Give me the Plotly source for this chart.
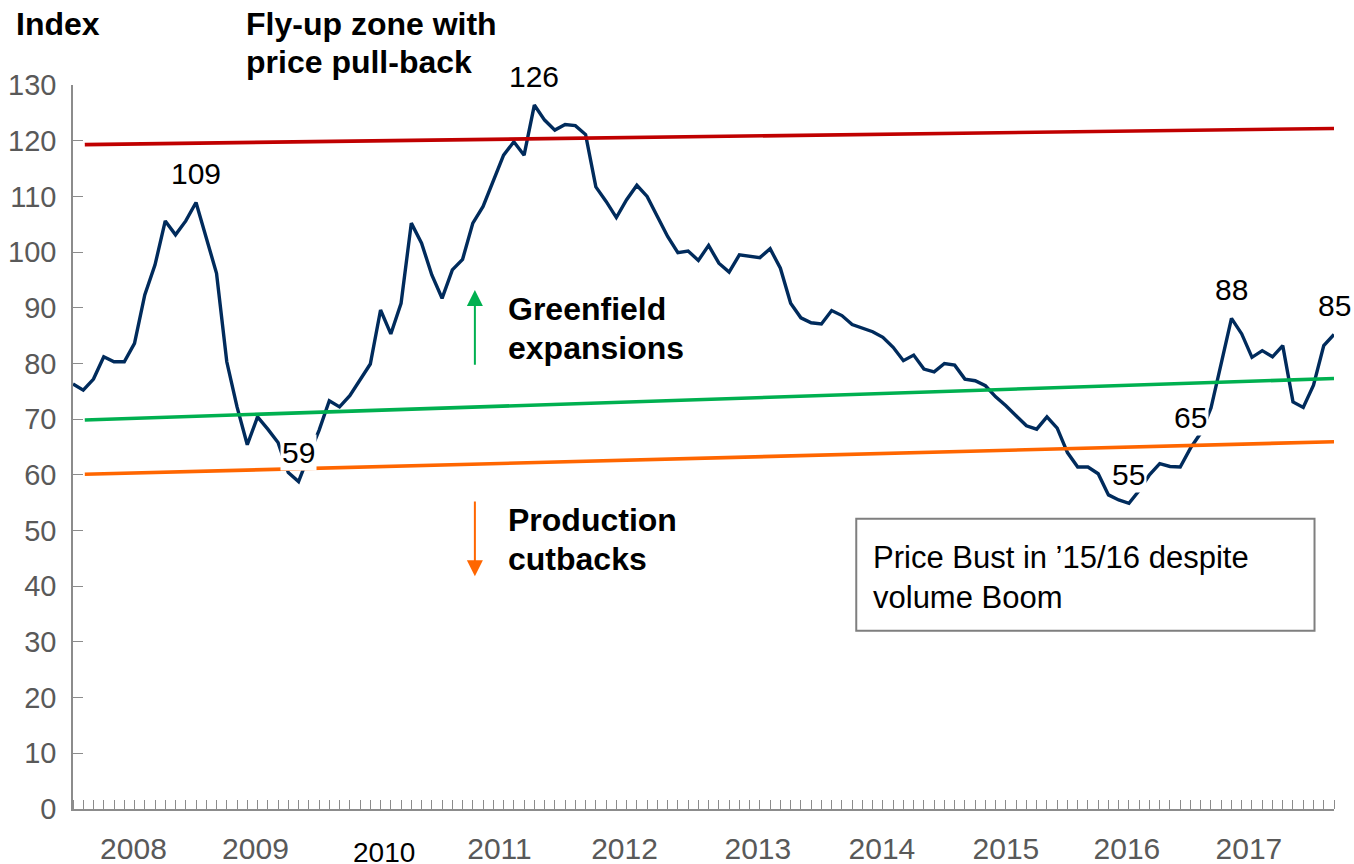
import plotly.graph_objects as go

# ---------------- data ----------------
months = list(range(124))  # monthly points, Jan 2008 onwards
index_values = [
    76.3, 75.2, 77.2, 81.2, 80.3, 80.3, 83.6, 92.3, 97.7, 105.6,
    103.1, 105.6, 108.9, 102.8, 96.2, 80.3, 72.2, 65.4, 70.4, 68.2,
    65.8, 60.4, 58.8, 63.5, 68.0, 73.3, 72.2, 74.2, 77.0, 79.9,
    89.6, 85.3, 90.8, 105.2, 101.6, 95.9, 91.7, 96.8, 98.7, 105.2,
    108.2, 112.9, 117.4, 119.8, 117.4, 126.4, 123.7, 121.9, 122.9, 122.7,
    121.1, 111.7, 109.1, 106.2, 109.4, 112.0, 110.0, 106.4, 102.8, 99.9,
    100.2, 98.5, 101.2, 98.0, 96.4, 99.5, 99.3, 99.0, 100.6, 97.1,
    90.8, 88.2, 87.3, 87.1, 89.5, 88.6, 87.0, 86.4, 85.7, 84.7,
    82.9, 80.5, 81.5, 79.0, 78.5, 80.0, 79.7, 77.2, 76.9, 76.0,
    74.0, 72.4, 70.6, 68.8, 68.2, 70.4, 68.4, 64.0, 61.4, 61.4,
    60.2, 56.4, 55.5, 54.9, 57.2, 60.0, 62.0, 61.5, 61.4, 64.8,
    67.5, 72.0, 80.0, 88.1, 85.3, 81.1, 82.3, 81.2, 83.2, 73.1,
    72.1, 76.1, 83.2, 85.2,
]

trend_x = [1.15, 123]
ceiling_line = [119.3, 122.2]      # fly-up zone threshold
greenfield_line = [69.85, 77.3]    # greenfield expansion threshold
cutback_line = [60.1, 65.95]       # production cutback threshold

year_labels = ["2008", "2009", "2011", "2012", "2013", "2014", "2015", "2016", "2017"]
year_pos = [5.9, 17.8, 41.6, 53.8, 66.8, 78.9, 91.0, 102.8, 114.7]
odd_year_label = "2010"
odd_year_pos = 30.3

y_ticks = list(range(0, 131, 10))

label_points = [12, 22, 45, 103, 109, 113, 123]
masked_labels = [22, 103, 109]

# ---------------- styling ----------------
FONT = "Liberation Sans, Arial, sans-serif"
NAVY = "#002B5C"
RED = "#C00000"
GREEN = "#00B050"
ORANGE = "#FF6600"
AXIS = "#8C8C8C"
TICKTXT = "#595959"

W, H = 1354, 864
ML, MR, MT, MB = 73, 20, 85, 55
PW, PH = W - ML - MR, H - MT - MB

fig = go.Figure()

fig.add_trace(go.Scatter(
    x=months, y=index_values, mode="lines",
    line=dict(color=NAVY, width=3.4), hoverinfo="skip",
))
for vals, col in [(ceiling_line, RED), (greenfield_line, GREEN), (cutback_line, ORANGE)]:
    fig.add_trace(go.Scatter(
        x=trend_x, y=vals, mode="lines",
        line=dict(color=col, width=3.6), hoverinfo="skip",
    ))

annotations = []

# data labels
label_yshift = {109: 31}
for i in label_points:
    annotations.append(dict(
        x=i, y=index_values[i], xref="x", yref="y",
        text=str(round(index_values[i])), showarrow=False,
        yshift=label_yshift.get(i, 29), yanchor="middle", xanchor="center",
        font=dict(family=FONT, size=30, color="black"),
        bgcolor="white" if i in masked_labels else None,
        borderpad=1,
    ))

# odd 2010 label (placed lower, black)
annotations.append(dict(
    x=odd_year_pos, y=0, xref="x", yref="y", text=odd_year_label,
    showarrow=False, yshift=-43, yanchor="middle",
    font=dict(family=FONT, size=28, color="black"),
))

def px_text(x, y, text, size=32, bold=True, color="black"):
    return dict(
        x=(x - ML) / PW, y=(H - MB - y) / PH, xref="paper", yref="paper",
        text=f"<b>{text}</b>" if bold else text, showarrow=False,
        xanchor="left", yanchor="middle",
        font=dict(family=FONT, size=size, color=color),
    )

annotations += [
    px_text(14, 24, "Index"),
    px_text(244, 24, "Fly-up zone with"),
    px_text(244, 62, "price pull-back"),
    px_text(506, 309, "Greenfield"),
    px_text(506, 348, "expansions"),
    px_text(506, 520, "Production"),
    px_text(506, 559, "cutbacks"),
    px_text(871, 557, "Price Bust in ’15/16 despite", size=31, bold=False),
    px_text(871, 597, "volume Boom", size=31, bold=False),
]

# arrows
arrow_x = 39.2
annotations.append(dict(
    x=arrow_x, y=93.2, ax=arrow_x, ay=79.5, xref="x", yref="y", axref="x", ayref="y",
    text="", showarrow=True, arrowhead=2, arrowsize=1.6, arrowwidth=2, arrowcolor=GREEN,
))
annotations.append(dict(
    x=arrow_x, y=41.8, ax=arrow_x, ay=55.5, xref="x", yref="y", axref="x", ayref="y",
    text="", showarrow=True, arrowhead=2, arrowsize=1.6, arrowwidth=2, arrowcolor=ORANGE,
))

fig.add_shape(type="rect", xref="x", yref="y", x0=76.4, x1=121.1, y0=32.0, y1=52.1,
              line=dict(color="#7F7F7F", width=2), fillcolor="white", layer="below")

fig.update_layout(
    width=W, height=H,
    margin=dict(l=ML, r=MR, t=MT, b=MB),
    plot_bgcolor="white", paper_bgcolor="white",
    showlegend=False,
    font=dict(family=FONT),
    annotations=annotations,
    xaxis=dict(
        range=[0, 123], showgrid=False, zeroline=False, automargin=False,
        showline=True, linecolor=AXIS, linewidth=1.5,
        tickmode="array", tickvals=year_pos, ticktext=year_labels,
        ticks="", ticklabelstandoff=12,
        tickfont=dict(family=FONT, size=30, color=TICKTXT),
        minor=dict(tickmode="array", tickvals=months, ticks="inside",
                   ticklen=9, tickcolor=AXIS, tickwidth=1.2, showgrid=False),
    ),
    yaxis=dict(
        range=[0, 130], showgrid=False, zeroline=False, automargin=False,
        showline=True, linecolor=AXIS, linewidth=1.5,
        tickmode="array", tickvals=y_ticks,
        ticks="inside", ticklen=10, tickcolor=AXIS, tickwidth=1.2,
        ticklabelstandoff=9,
        tickfont=dict(family=FONT, size=29, color=TICKTXT),
    ),
)

fig.write_html(
    "out.html",
    config={"displayModeBar": False},
    post_script="document.body.style.margin='0px';document.body.style.overflow='hidden';",
)
